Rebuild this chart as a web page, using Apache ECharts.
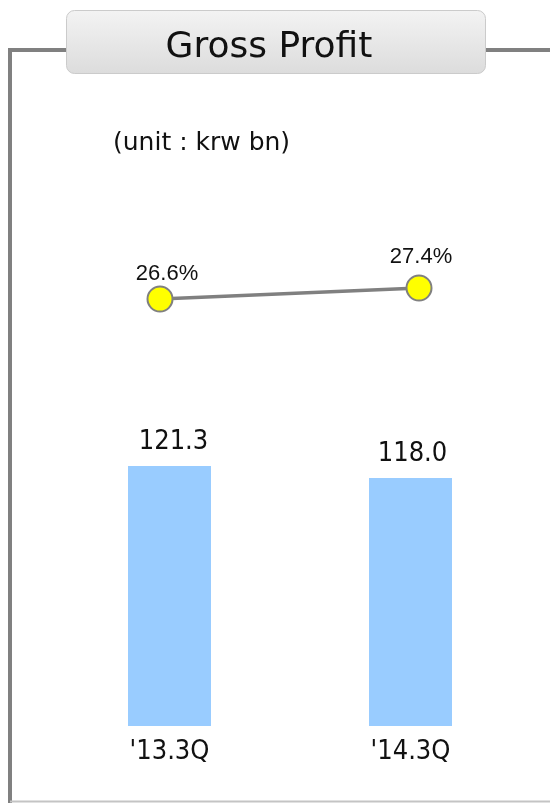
<!DOCTYPE html>
<html>
<head>
<meta charset="utf-8">
<script src="https://cdn.jsdelivr.net/npm/echarts@6/dist/echarts.min.js"></script>
<style>
  html, body { margin: 0; padding: 0; background: #fff; }
  #main { width: 550px; height: 803px; }
</style>
</head>
<body>
<div id="main"></div>
<script>
// data
var categories = ["'13.3Q", "'14.3Q"];
var grossProfit = [121.3, 118.0];
var marginPct = [26.6, 27.4];
var titleText = 'Gross Profit';
var unitText = '(unit : krw bn)';

var chart = echarts.init(document.getElementById('main'));

// labels above the markers sit at slightly different heights
var pctOffsets = [[7, 4], [2, -2]];
var lineData = marginPct.map(function(v, i) {
    return { value: v, label: { offset: pctOffsets[i] } };
});
var barOffsets = [[4, 0], [2, 0]];
var barData = grossProfit.map(function(v, i) {
    return { value: v, label: { offset: barOffsets[i] } };
});

var option = {
    animation: false,
    backgroundColor: '#fff',
    grid: [
        // bars
        { left: 49, width: 482, top: 434.3, height: 291.7 },
        // margin line
        { left: 30.5, width: 518, top: 279.75, height: 27.5 }
    ],
    xAxis: [{
        type: 'category',
        gridIndex: 0,
        data: categories,
        axisLine: { show: false },
        axisTick: { show: false },
        axisLabel: {
            margin: 12,
            fontSize: 27,
            color: '#111',
            fontFamily: 'DejaVu Sans Condensed'
        }
    }, {
        type: 'category',
        gridIndex: 1,
        data: categories,
        show: false
    }],
    yAxis: [{
        type: 'value',
        gridIndex: 0,
        min: 50,
        max: 130,
        show: false
    }, {
        type: 'value',
        gridIndex: 1,
        min: 26,
        max: 28,
        show: false
    }],
    series: [{
        type: 'bar',
        xAxisIndex: 0,
        yAxisIndex: 0,
        data: barData,
        barWidth: 83,
        itemStyle: { color: '#99CCFF' },
        label: {
            show: true,
            position: 'top',
            distance: 11,
            fontSize: 27,
            color: '#111',
            fontFamily: 'DejaVu Sans Condensed',
            formatter: function(p) { return p.value.toFixed(1); }
        }
    }, {
        type: 'line',
        xAxisIndex: 1,
        yAxisIndex: 1,
        data: lineData,
        symbol: 'circle',
        symbolSize: 25,
        lineStyle: { color: '#808080', width: 3.5 },
        itemStyle: { color: '#FFFF00', borderColor: '#808080', borderWidth: 2 },
        label: {
            show: true,
            position: 'top',
            distance: 5,
            fontSize: 22,
            color: '#111',
            fontFamily: 'Liberation Sans',
            formatter: function(p) { return p.value.toFixed(1) + '%'; }
        }
    }],
    graphic: [
        // frame
        {
            type: 'polyline',
            shape: { points: [[66, 50], [10, 50], [10, 803]] },
            style: { stroke: '#808080', lineWidth: 4, fill: null }
        },
        {
            type: 'line',
            shape: { x1: 485, y1: 50, x2: 550, y2: 50 },
            style: { stroke: '#808080', lineWidth: 4 }
        },
        {
            type: 'line',
            shape: { x1: 10, y1: 801.5, x2: 550, y2: 801.5 },
            style: { stroke: '#c4c4c4', lineWidth: 2 }
        },
        // title box
        {
            type: 'rect',
            shape: { x: 66.5, y: 10.5, width: 419, height: 63, r: 8 },
            style: {
                fill: new echarts.graphic.LinearGradient(0, 0, 0, 1, [
                    { offset: 0, color: '#f3f3f3' },
                    { offset: 1, color: '#dcdcdc' }
                ]),
                stroke: '#cbcbcb',
                lineWidth: 1
            }
        },
        {
            type: 'text',
            x: 269,
            y: 48,
            style: {
                text: titleText,
                fontSize: 36,
                fontFamily: 'DejaVu Sans',
                fill: '#111',
                align: 'center',
                verticalAlign: 'middle'
            }
        },
        {
            type: 'text',
            x: 113,
            y: 143,
            style: {
                text: unitText,
                fontSize: 25,
                fontFamily: 'DejaVu Sans',
                fill: '#111',
                align: 'left',
                verticalAlign: 'middle'
            }
        }
    ]
};

chart.setOption(option);
</script>
</body>
</html>
